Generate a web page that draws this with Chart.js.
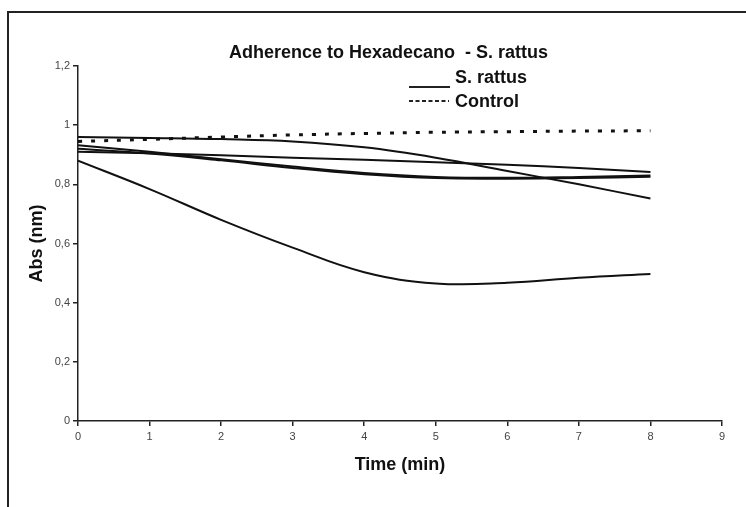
<!DOCTYPE html>
<html>
<head>
<meta charset="utf-8">
<script src="https://cdn.jsdelivr.net/npm/chart.js@4/dist/chart.umd.min.js"></script>
<style>
  html, body { margin: 0; padding: 0; background: #fff; }
  #wrap { width: 746px; height: 507px; }
</style>
</head>
<body>
<div id="wrap"><canvas id="chartCanvas" width="746" height="507"></canvas></div>
<script>
// Werte
const zeiten = [0, 1, 2, 3, 4, 5, 6, 7, 8];
const rattusA = [0.960, 0.957, 0.953, 0.945, 0.925, 0.890, 0.845, 0.800, 0.752];
const rattusB = [0.910, 0.905, 0.898, 0.890, 0.883, 0.875, 0.866, 0.855, 0.842];
const rattusC1 = [0.932, 0.910, 0.885, 0.860, 0.838, 0.825, 0.822, 0.825, 0.830];
const rattusC2 = [0.920, 0.904, 0.881, 0.855, 0.834, 0.821, 0.819, 0.821, 0.826];
const rattusD = [0.880, 0.784, 0.680, 0.586, 0.503, 0.465, 0.467, 0.484, 0.497];
const kontrolle = [0.945, 0.952, 0.960, 0.967, 0.972, 0.976, 0.978, 0.980, 0.981];
const xTicks = [0, 1, 2, 3, 4, 5, 6, 7, 8, 9];
const yTicks = [0, 0.2, 0.4, 0.6, 0.8, 1, 1.2];

const titelText = "Adherence to Hexadecano  - S. rattus";
const legendeRattus = "S. rattus";
const legendeKontrolle = "Control";

const ctx = document.getElementById('chartCanvas').getContext('2d');

function punkte(werte) {
  return werte.map((v, i) => ({ x: zeiten[i], y: v }));
}

function linie(label, werte, extra) {
  return Object.assign({
    label: label,
    data: punkte(werte),
    borderColor: '#111',
    borderWidth: 2,
    pointRadius: 0,
    fill: false,
    tension: 0.4
  }, extra || {});
}

// Rahmen, Titel und Legende
const rahmenPlugin = {
  id: 'rahmen',
  afterDraw(chart) {
    const c = chart.ctx;
    c.save();
    c.strokeStyle = '#222';
    c.lineWidth = 2;
    c.beginPath();
    c.moveTo(8, 507);
    c.lineTo(8, 12);
    c.lineTo(746, 12);
    c.stroke();

    c.fillStyle = '#111';
    c.font = 'bold 18px "Liberation Sans", Arial, sans-serif';
    c.textBaseline = 'alphabetic';
    c.textAlign = 'left';
    c.fillText(titelText, 229, 58);
    c.fillText(legendeRattus, 455, 83);
    c.fillText(legendeKontrolle, 455, 107);

    c.lineWidth = 2;
    c.beginPath();
    c.moveTo(409, 87);
    c.lineTo(450, 87);
    c.stroke();
    c.setLineDash([4, 2.5]);
    c.beginPath();
    c.moveTo(409, 101);
    c.lineTo(449, 101);
    c.stroke();
    c.restore();
  }
};

new Chart(ctx, {
  type: 'line',
  data: {
    datasets: [
      linie('S. rattus', rattusA),
      linie('S. rattus', rattusB),
      linie('S. rattus', rattusC1),
      linie('S. rattus', rattusC2),
      linie('S. rattus', rattusD),
      linie('Control', kontrolle, { borderDash: [4, 9], borderWidth: 3, borderCapStyle: 'butt' })
    ]
  },
  options: {
    responsive: false,
    animation: false,
    layout: { padding: { left: 0, right: 24, top: 66, bottom: 0 } },
    plugins: {
      legend: { display: false },
      title: { display: false },
      tooltip: { enabled: false }
    },
    scales: {
      x: {
        type: 'linear',
        min: 0,
        max: 9,
        afterFit(scale) { scale.height = 86; },
        afterBuildTicks(scale) { scale.ticks = xTicks.map(v => ({ value: v })); },
        grid: { display: true, drawOnChartArea: false, drawTicks: true, tickLength: 5, color: '#222', lineWidth: 1.5 },
        border: { display: true, color: '#222', width: 1.5 },
        ticks: { color: '#444', font: { family: '"Liberation Sans", Arial, sans-serif', size: 11 }, padding: 4, maxRotation: 0 },
        title: {
          display: true,
          text: 'Time (min)',
          color: '#111',
          font: { family: '"Liberation Sans", Arial, sans-serif', size: 18, weight: 'bold' },
          padding: { top: 0, bottom: 31 }
        }
      },
      y: {
        min: 0,
        max: 1.2,
        afterFit(scale) { scale.width = 78; },
        afterBuildTicks(scale) { scale.ticks = yTicks.map(v => ({ value: v })); },
        grid: { display: true, drawOnChartArea: false, drawTicks: true, tickLength: 5, color: '#222', lineWidth: 1.5 },
        border: { display: true, color: '#222', width: 1.5 },
        ticks: {
          color: '#444',
          font: { family: '"Liberation Sans", Arial, sans-serif', size: 11 },
          padding: 3,
          callback: v => String(Math.round(v * 10) / 10).replace('.', ',')
        },
        title: {
          display: true,
          text: 'Abs (nm)',
          color: '#111',
          font: { family: '"Liberation Sans", Arial, sans-serif', size: 18, weight: 'bold' },
          padding: { top: 26, bottom: 0 }
        }
      }
    }
  },
  plugins: [rahmenPlugin]
});
</script>
</body>
</html>
